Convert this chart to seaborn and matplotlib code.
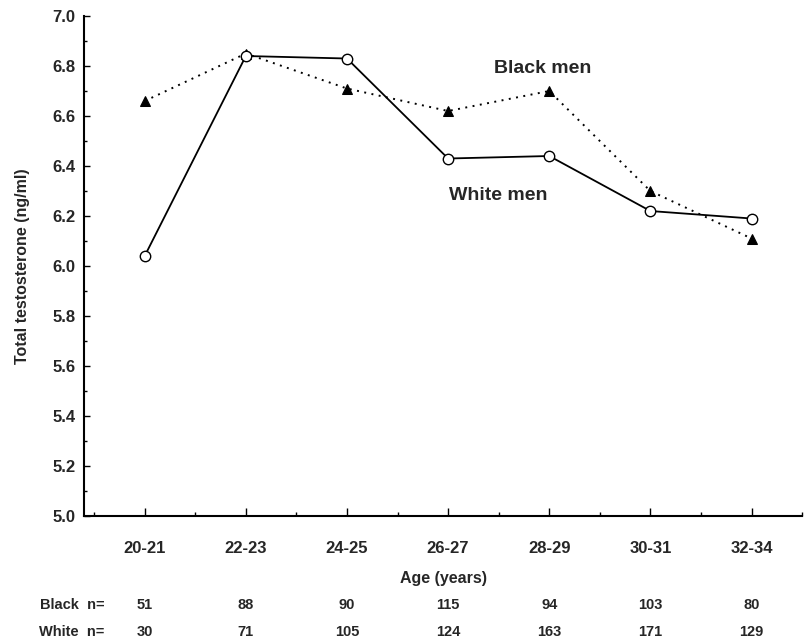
import matplotlib
matplotlib.use("Agg")
import matplotlib.pyplot as plt
import matplotlib.transforms as mtransforms
from matplotlib.ticker import MultipleLocator, FixedLocator
import seaborn as sns
import pandas as pd

age_groups = ["20-21", "22-23", "24-25", "26-27", "28-29", "30-31", "32-34"]
black_values = [6.66, 6.85, 6.71, 6.62, 6.70, 6.30, 6.11]
white_values = [6.04, 6.84, 6.83, 6.43, 6.44, 6.22, 6.19]
black_n = [51, 88, 90, 115, 94, 103, 80]
white_n = [30, 71, 105, 124, 163, 171, 129]

sns.set_theme(style="white")
plt.rcParams['font.family'] = ['Liberation Sans', 'DejaVu Sans']
plt.rcParams['font.weight'] = 'bold'

pos = list(range(len(age_groups)))
df_b = pd.DataFrame({"pos": pos, "value": black_values})
df_w = pd.DataFrame({"pos": pos, "value": white_values})

fig = plt.figure(figsize=(8.11, 6.43), dpi=100)
ax = fig.add_axes([0.1036, 0.1975, 0.8854, 0.7776])

sns.lineplot(data=df_b, x="pos", y="value", ax=ax, color="black",
             linestyle=(0, (1, 2.8)), linewidth=1.4, marker="^",
             markersize=7, markerfacecolor="black", markeredgecolor="black",
             zorder=3)
sns.lineplot(data=df_w, x="pos", y="value", ax=ax, color="black",
             linestyle="-", linewidth=1.3, marker="o",
             markersize=7.5, markerfacecolor="white", markeredgecolor="black",
             markeredgewidth=1.0, zorder=4)

ax.set_xlim(-0.6, 6.5)
ax.set_ylim(5.0, 7.0)
ax.set_xticks(pos)
ax.set_xticklabels(age_groups)
ax.xaxis.set_minor_locator(FixedLocator([p + 0.5 for p in range(-1, 7)]))
ax.yaxis.set_major_locator(MultipleLocator(0.2))
ax.yaxis.set_minor_locator(MultipleLocator(0.1))
ax.set_yticklabels([f"{v:.1f}" for v in ax.get_yticks()])

for s in ["top", "right"]:
    ax.spines[s].set_visible(False)
for s in ["left", "bottom"]:
    ax.spines[s].set_color("black")
    ax.spines[s].set_linewidth(1.5)

ax.tick_params(axis="x", which="major", direction="in", length=6, width=1,
               color="black", pad=18, labelsize=12, bottom=True)
ax.tick_params(axis="x", which="minor", direction="in", length=3, width=1,
               color="black", bottom=True)
ax.tick_params(axis="y", which="major", direction="in", length=4.5, width=1,
               color="black", pad=6, labelsize=12, left=True)
ax.tick_params(axis="y", which="minor", direction="in", length=2.5, width=1,
               color="black", left=True)
for lab in ax.get_xticklabels() + ax.get_yticklabels():
    lab.set_fontweight("bold")

ax.set_xlabel("Age (years)", fontsize=11.5, fontweight="bold", labelpad=11)
ax.set_ylabel("Total testosterone (ng/ml)", fontsize=11.5, fontweight="bold",
              labelpad=16)

ax.text(3.94, 6.792, "Black men", fontsize=14, fontweight="bold",
        ha="center", va="center")
ax.text(3.495, 6.284, "White men", fontsize=14, fontweight="bold",
        ha="center", va="center")

trans = mtransforms.blended_transform_factory(ax.transData, fig.transFigure)
y_black = 1 - 605 / 643
y_white = 1 - 632 / 643
fig.text(105 / 811, y_black, "Black  n=", fontsize=10.5, fontweight="bold",
         ha="right", va="center")
fig.text(104 / 811, y_white, "White  n=", fontsize=10.5, fontweight="bold",
         ha="right", va="center")
for p, bn, wn in zip(pos, black_n, white_n):
    ax.text(p, y_black, str(bn), transform=trans, fontsize=10.5,
            fontweight="bold", ha="center", va="center")
    ax.text(p, y_white, str(wn), transform=trans, fontsize=10.5,
            fontweight="bold", ha="center", va="center")

fig.savefig("out.png", dpi=100, facecolor="white")
